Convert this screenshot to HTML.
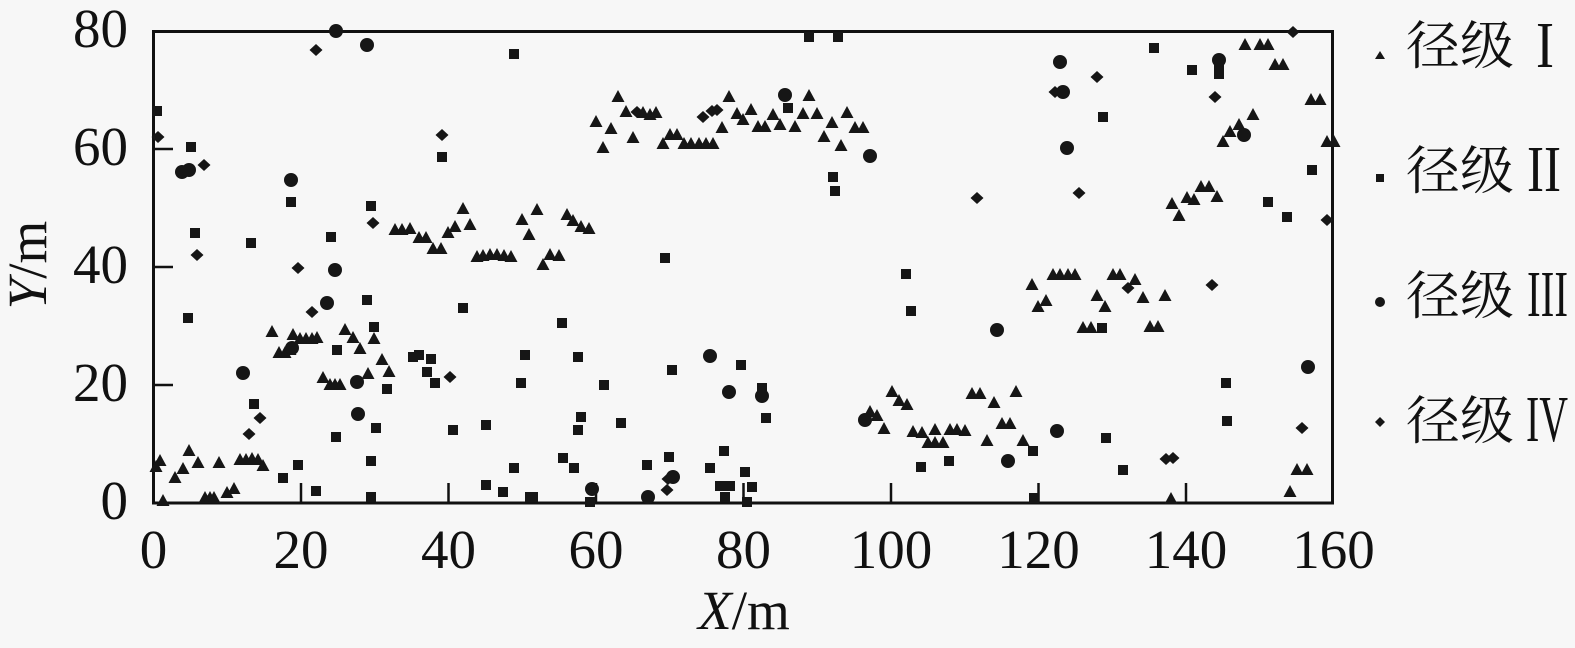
<!DOCTYPE html>
<html><head><meta charset="utf-8"><style>
html,body{margin:0;padding:0;background:#f7f7f7;}
svg{display:block;}
.tk{font-family:"Liberation Serif",serif;font-size:55px;fill:#111;}
.cj{font-family:"Liberation Serif","Noto Serif CJK SC",serif;font-size:52px;fill:#111;}
.rn{font-family:"Liberation Serif",serif;font-size:66px;fill:#111;}
</style></head><body>
<svg width="1575" height="648" viewBox="0 0 1575 648" xmlns="http://www.w3.org/2000/svg">
<defs>
<path id="t" d="M0,-7 L6.5,5 L-6.5,5 Z" fill="#161616"/>
<rect id="s" x="-5" y="-5" width="10" height="10" fill="#161616"/>
<circle id="c" r="7" fill="#161616"/>
<path id="d" d="M0,-6 L6.5,0 L0,6 L-6.5,0 Z" fill="#161616"/>
</defs>
<rect x="0" y="0" width="1575" height="648" fill="#f7f7f7"/>
<!-- frame -->
<rect x="153.5" y="31.5" width="1179" height="471.5" fill="none" stroke="#111" stroke-width="3"/>
<g stroke="#111" stroke-width="2.5">
<line x1="153" y1="149" x2="173" y2="149"/>
<line x1="153" y1="267" x2="173" y2="267"/>
<line x1="153" y1="385" x2="173" y2="385"/>
<line x1="301" y1="503" x2="301" y2="483"/>
<line x1="448.5" y1="503" x2="448.5" y2="483"/>
<line x1="596" y1="503" x2="596" y2="483"/>
<line x1="743.5" y1="503" x2="743.5" y2="483"/>
<line x1="891" y1="503" x2="891" y2="483"/>
<line x1="1038.5" y1="503" x2="1038.5" y2="483"/>
<line x1="1186" y1="503" x2="1186" y2="483"/>
</g>
<!-- y tick labels -->
<g class="tk" text-anchor="end">
<text x="128" y="47">80</text>
<text x="128" y="165">60</text>
<text x="128" y="283">40</text>
<text x="128" y="401">20</text>
<text x="128" y="519">0</text>
</g>
<!-- x tick labels -->
<g class="tk" text-anchor="middle">
<text x="153.5" y="568">0</text>
<text x="301" y="568">20</text>
<text x="448.5" y="568">40</text>
<text x="596" y="568">60</text>
<text x="743.5" y="568">80</text>
<text x="891" y="568">100</text>
<text x="1038.5" y="568">120</text>
<text x="1186" y="568">140</text>
<text x="1333.5" y="568">160</text>
</g>
<text class="tk" x="744" y="629" text-anchor="middle"><tspan font-style="italic">X</tspan>/m</text>
<text class="tk" transform="translate(46,265) rotate(-90)" text-anchor="middle"><tspan font-style="italic">Y</tspan>/m</text>

<!-- triangles -->
<g>
<use href="#t" x="163" y="501"/><use href="#t" x="156" y="467"/><use href="#t" x="160" y="461"/><use href="#t" x="175" y="478"/><use href="#t" x="183" y="469"/><use href="#t" x="189" y="451"/><use href="#t" x="198" y="463"/><use href="#t" x="205" y="498"/><use href="#t" x="210" y="498"/><use href="#t" x="214" y="498"/><use href="#t" x="219" y="463"/><use href="#t" x="227" y="493"/><use href="#t" x="234" y="489"/><use href="#t" x="240" y="460"/><use href="#t" x="246" y="460"/><use href="#t" x="252" y="459"/><use href="#t" x="258" y="460"/><use href="#t" x="263" y="466"/>
<use href="#t" x="272" y="332"/><use href="#t" x="279" y="353"/><use href="#t" x="285" y="353"/><use href="#t" x="290" y="350"/><use href="#t" x="293" y="335"/><use href="#t" x="300" y="339"/><use href="#t" x="306" y="339"/><use href="#t" x="312" y="339"/><use href="#t" x="317" y="338"/><use href="#t" x="323" y="378"/><use href="#t" x="330" y="385"/><use href="#t" x="335" y="385"/><use href="#t" x="340" y="385"/><use href="#t" x="345" y="330"/><use href="#t" x="353" y="338"/><use href="#t" x="360" y="349"/><use href="#t" x="368" y="374"/><use href="#t" x="374" y="339"/><use href="#t" x="382" y="360"/><use href="#t" x="389" y="372"/>
<use href="#t" x="395" y="230"/><use href="#t" x="402" y="230"/><use href="#t" x="410" y="229"/><use href="#t" x="419" y="238"/><use href="#t" x="426" y="238"/><use href="#t" x="433" y="249"/><use href="#t" x="441" y="249"/><use href="#t" x="448" y="233"/><use href="#t" x="455" y="227"/><use href="#t" x="463" y="209"/><use href="#t" x="470" y="225"/><use href="#t" x="477" y="257"/><use href="#t" x="483" y="256"/><use href="#t" x="490" y="255"/><use href="#t" x="497" y="255"/><use href="#t" x="504" y="256"/><use href="#t" x="511" y="257"/><use href="#t" x="522" y="220"/><use href="#t" x="529" y="235"/><use href="#t" x="537" y="210"/><use href="#t" x="543" y="265"/><use href="#t" x="550" y="255"/><use href="#t" x="559" y="256"/><use href="#t" x="567" y="215"/><use href="#t" x="573" y="221"/><use href="#t" x="581" y="227"/><use href="#t" x="589" y="229"/>
<use href="#t" x="596" y="122"/><use href="#t" x="603" y="148"/><use href="#t" x="611" y="129"/><use href="#t" x="618" y="97"/><use href="#t" x="626" y="112"/><use href="#t" x="633" y="138"/><use href="#t" x="643" y="113"/><use href="#t" x="650" y="115"/><use href="#t" x="656" y="113"/><use href="#t" x="663" y="144"/><use href="#t" x="670" y="135"/><use href="#t" x="677" y="135"/><use href="#t" x="684" y="144"/><use href="#t" x="691" y="144"/><use href="#t" x="699" y="144"/><use href="#t" x="706" y="144"/><use href="#t" x="713" y="144"/><use href="#t" x="722" y="128"/><use href="#t" x="729" y="97"/><use href="#t" x="737" y="114"/><use href="#t" x="743" y="120"/><use href="#t" x="751" y="110"/><use href="#t" x="758" y="127"/><use href="#t" x="765" y="127"/><use href="#t" x="773" y="115"/><use href="#t" x="780" y="125"/><use href="#t" x="795" y="127"/><use href="#t" x="803" y="114"/><use href="#t" x="809" y="96"/><use href="#t" x="817" y="114"/><use href="#t" x="824" y="137"/><use href="#t" x="832" y="123"/><use href="#t" x="841" y="146"/><use href="#t" x="847" y="113"/><use href="#t" x="855" y="128"/><use href="#t" x="863" y="128"/>
<use href="#t" x="870" y="412"/><use href="#t" x="877" y="416"/><use href="#t" x="884" y="429"/><use href="#t" x="892" y="392"/><use href="#t" x="899" y="401"/><use href="#t" x="907" y="405"/><use href="#t" x="913" y="432"/><use href="#t" x="922" y="433"/><use href="#t" x="928" y="443"/><use href="#t" x="935" y="443"/><use href="#t" x="943" y="443"/><use href="#t" x="935" y="430"/><use href="#t" x="950" y="430"/><use href="#t" x="957" y="430"/><use href="#t" x="965" y="431"/><use href="#t" x="972" y="394"/><use href="#t" x="980" y="394"/><use href="#t" x="987" y="441"/><use href="#t" x="994" y="403"/><use href="#t" x="1002" y="424"/><use href="#t" x="1010" y="424"/><use href="#t" x="1016" y="392"/><use href="#t" x="1023" y="441"/>
<use href="#t" x="1032" y="285"/><use href="#t" x="1038" y="307"/><use href="#t" x="1046" y="301"/><use href="#t" x="1053" y="275"/><use href="#t" x="1060" y="275"/><use href="#t" x="1068" y="275"/><use href="#t" x="1075" y="275"/><use href="#t" x="1083" y="328"/><use href="#t" x="1091" y="328"/><use href="#t" x="1097" y="296"/><use href="#t" x="1105" y="307"/><use href="#t" x="1113" y="275"/><use href="#t" x="1120" y="275"/><use href="#t" x="1135" y="280"/><use href="#t" x="1143" y="298"/><use href="#t" x="1150" y="327"/><use href="#t" x="1158" y="327"/><use href="#t" x="1165" y="296"/><use href="#t" x="1171" y="499"/>
<use href="#t" x="1172" y="204"/><use href="#t" x="1179" y="216"/><use href="#t" x="1187" y="198"/><use href="#t" x="1194" y="200"/><use href="#t" x="1201" y="187"/><use href="#t" x="1209" y="187"/><use href="#t" x="1217" y="197"/><use href="#t" x="1223" y="142"/><use href="#t" x="1230" y="132"/><use href="#t" x="1239" y="125"/><use href="#t" x="1245" y="45"/><use href="#t" x="1253" y="115"/><use href="#t" x="1260" y="45"/><use href="#t" x="1268" y="45"/><use href="#t" x="1275" y="65"/><use href="#t" x="1283" y="65"/><use href="#t" x="1290" y="492"/><use href="#t" x="1297" y="470"/><use href="#t" x="1307" y="470"/><use href="#t" x="1311" y="100"/><use href="#t" x="1320" y="100"/><use href="#t" x="1327" y="142"/><use href="#t" x="1334" y="142"/>
</g>
<!-- squares -->
<g>
<use href="#s" x="157" y="111"/><use href="#s" x="191" y="147"/><use href="#s" x="195" y="233"/><use href="#s" x="251" y="243"/><use href="#s" x="331" y="237"/><use href="#s" x="291" y="202"/><use href="#s" x="371" y="206"/><use href="#s" x="442" y="157"/><use href="#s" x="514" y="54"/>
<use href="#s" x="188" y="318"/><use href="#s" x="367" y="300"/><use href="#s" x="463" y="308"/><use href="#s" x="374" y="327"/><use href="#s" x="337" y="350"/><use href="#s" x="413" y="357"/><use href="#s" x="419" y="355"/><use href="#s" x="431" y="359"/><use href="#s" x="427" y="372"/><use href="#s" x="435" y="383"/><use href="#s" x="525" y="355"/><use href="#s" x="521" y="383"/><use href="#s" x="387" y="389"/><use href="#s" x="254" y="404"/><use href="#s" x="376" y="428"/><use href="#s" x="336" y="437"/><use href="#s" x="453" y="430"/><use href="#s" x="486" y="425"/><use href="#s" x="298" y="465"/><use href="#s" x="283" y="478"/><use href="#s" x="371" y="461"/><use href="#s" x="514" y="468"/><use href="#s" x="316" y="491"/><use href="#s" x="371" y="497"/><use href="#s" x="486" y="485"/><use href="#s" x="503" y="492"/><use href="#s" x="530" y="497"/>
<use href="#s" x="809" y="37"/><use href="#s" x="838" y="37"/><use href="#s" x="833" y="177"/><use href="#s" x="835" y="191"/><use href="#s" x="665" y="258"/><use href="#s" x="788" y="108"/>
<use href="#s" x="562" y="323"/><use href="#s" x="906" y="274"/><use href="#s" x="911" y="311"/><use href="#s" x="578" y="357"/><use href="#s" x="672" y="370"/><use href="#s" x="741" y="365"/><use href="#s" x="604" y="385"/><use href="#s" x="762" y="388"/><use href="#s" x="581" y="417"/><use href="#s" x="578" y="430"/><use href="#s" x="621" y="423"/><use href="#s" x="766" y="418"/><use href="#s" x="563" y="458"/><use href="#s" x="574" y="468"/><use href="#s" x="647" y="465"/><use href="#s" x="669" y="457"/><use href="#s" x="710" y="468"/><use href="#s" x="724" y="451"/><use href="#s" x="745" y="472"/><use href="#s" x="720" y="486"/><use href="#s" x="730" y="486"/><use href="#s" x="725" y="497"/><use href="#s" x="752" y="487"/><use href="#s" x="747" y="502"/><use href="#s" x="590" y="502"/><use href="#s" x="533" y="497"/>
<use href="#s" x="921" y="467"/><use href="#s" x="949" y="461"/>
<use href="#s" x="1154" y="48"/><use href="#s" x="1192" y="70"/><use href="#s" x="1219" y="68"/><use href="#s" x="1219" y="74"/><use href="#s" x="1103" y="117"/><use href="#s" x="1312" y="170"/><use href="#s" x="1268" y="202"/><use href="#s" x="1287" y="217"/>
<use href="#s" x="1102" y="328"/><use href="#s" x="1226" y="383"/><use href="#s" x="1033" y="451"/><use href="#s" x="1106" y="438"/><use href="#s" x="1227" y="421"/><use href="#s" x="1123" y="470"/><use href="#s" x="1034" y="498"/>
</g>
<!-- circles -->
<g>
<use href="#c" x="336" y="31"/><use href="#c" x="367" y="45"/><use href="#c" x="182" y="172"/><use href="#c" x="189" y="170"/><use href="#c" x="291" y="180"/><use href="#c" x="243" y="373"/><use href="#c" x="292" y="348"/><use href="#c" x="327" y="303"/><use href="#c" x="357" y="382"/><use href="#c" x="358" y="414"/><use href="#c" x="335" y="270"/>
<use href="#c" x="785" y="95"/><use href="#c" x="870" y="156"/><use href="#c" x="710" y="356"/><use href="#c" x="729" y="392"/><use href="#c" x="762" y="396"/><use href="#c" x="592" y="489"/><use href="#c" x="648" y="497"/><use href="#c" x="673" y="477"/><use href="#c" x="865" y="420"/>
<use href="#c" x="1060" y="62"/><use href="#c" x="1063" y="92"/><use href="#c" x="1219" y="60"/><use href="#c" x="1244" y="135"/><use href="#c" x="1067" y="148"/><use href="#c" x="997" y="330"/><use href="#c" x="1308" y="367"/><use href="#c" x="1057" y="431"/><use href="#c" x="1008" y="461"/>
</g>
<!-- diamonds -->
<g>
<use href="#d" x="316" y="50"/><use href="#d" x="158" y="137"/><use href="#d" x="204" y="165"/><use href="#d" x="373" y="223"/><use href="#d" x="442" y="135"/><use href="#d" x="197" y="255"/><use href="#d" x="298" y="268"/><use href="#d" x="312" y="312"/><use href="#d" x="450" y="377"/><use href="#d" x="260" y="418"/><use href="#d" x="249" y="434"/>
<use href="#d" x="637" y="112"/><use href="#d" x="703" y="117"/><use href="#d" x="712" y="111"/><use href="#d" x="717" y="110"/><use href="#d" x="977" y="198"/><use href="#d" x="668" y="479"/><use href="#d" x="667" y="490"/>
<use href="#d" x="1293" y="32"/><use href="#d" x="1097" y="77"/><use href="#d" x="1055" y="92"/><use href="#d" x="1215" y="97"/><use href="#d" x="1079" y="193"/><use href="#d" x="1327" y="220"/>
<use href="#d" x="1128" y="288"/><use href="#d" x="1212" y="285"/><use href="#d" x="1302" y="428"/><use href="#d" x="1166" y="459"/><use href="#d" x="1173" y="458"/>
</g>

<!-- legend -->
<g fill="#161616">
<path d="M1380,51 L1385,59 L1375,59 Z"/>
<rect x="1376" y="174" width="8" height="8"/>
<circle cx="1380" cy="302" r="5"/>
<path d="M1380,417 L1385,422 L1380,427 L1375,422 Z"/>
</g>
<g class="cj">
<text x="1406" y="64" textLength="108" lengthAdjust="spacingAndGlyphs">径级</text>
<text x="1406" y="189" textLength="108" lengthAdjust="spacingAndGlyphs">径级</text>
<text x="1406" y="314" textLength="108" lengthAdjust="spacingAndGlyphs">径级</text>
<text x="1406" y="439" textLength="108" lengthAdjust="spacingAndGlyphs">径级</text>
</g>
<g class="rn">
<text x="1536" y="67" textLength="18" lengthAdjust="spacingAndGlyphs">I</text>
<text x="1527" y="191" textLength="34" lengthAdjust="spacingAndGlyphs">II</text>
<text x="1527" y="316" textLength="41" lengthAdjust="spacingAndGlyphs">III</text>
<text x="1526" y="441" textLength="42" lengthAdjust="spacingAndGlyphs">IV</text>
</g>
</svg>
</body></html>
